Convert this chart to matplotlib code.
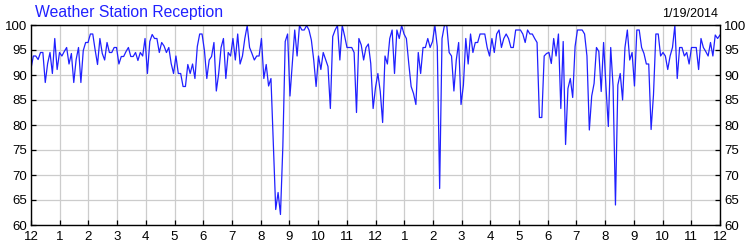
import numpy as np
import matplotlib.pyplot as plt

block_0_6 = [91.3, 93.8, 93.8, 93.1, 94.5, 94.5, 88.5, 92.3, 94.5, 90.3, 97.3, 91.1,
             94.5, 93.8, 94.7, 95.5, 92.2, 94.3, 88.5, 93.1, 95.5, 88.5, 94.9, 96.5,
             96.5, 98.2, 98.2, 95.0, 92.1, 97.3, 94.3, 93.0, 96.5, 94.5, 94.5, 95.5,
             95.5, 92.2, 93.7, 93.7, 94.7, 95.5, 93.7, 93.7, 94.5, 92.9, 94.5, 93.8,
             97.3, 90.3, 96.7, 98.1, 97.3, 97.3, 94.5, 96.5, 95.8, 94.5, 95.5, 92.3,
             90.3, 93.8, 90.3, 90.3, 87.7, 87.7, 92.1, 90.3, 92.2, 89.3, 95.7, 98.2,
             98.2, 94.9]
block_6_12 = [89.3, 93.0, 93.7, 96.5, 86.8, 90.3, 95.5, 97.3, 89.3, 94.5, 93.8, 97.3,
              93.0, 98.2, 92.2, 93.8, 97.3, 99.9, 95.5, 94.3, 93.0, 93.8, 93.8, 97.3,
              89.3, 92.1, 87.8, 89.3, 76.3, 63.1, 66.5, 62.1, 75.7, 96.7, 98.2, 85.8,
              92.3, 99.0, 93.8, 99.9, 99.0, 99.0, 99.9, 99.0, 97.0, 93.0, 87.7, 93.8,
              91.1, 94.5, 93.1, 91.7, 83.3, 97.7, 99.0, 99.9, 93.0, 99.9, 97.8, 95.5,
              95.5, 95.5, 94.5, 82.5, 97.3, 96.0, 93.0, 95.5, 96.2, 92.3, 83.3, 87.5]
block_12_18 = [90.3, 86.7, 80.5, 93.8, 92.2, 97.3, 99.0, 90.3, 99.0, 97.3, 99.9, 98.2,
               97.3, 92.3, 87.7, 86.3, 84.1, 94.5, 90.3, 95.5, 95.5, 97.3, 95.5, 96.7,
               99.9, 95.7, 67.3, 97.3, 99.9, 99.9, 94.5, 93.8, 86.8, 93.0, 96.5, 84.1,
               88.0, 97.3, 92.2, 98.2, 94.5, 96.5, 96.5, 98.2, 98.2, 98.2, 95.5, 93.8,
               97.3, 94.5, 98.2, 99.0, 95.5, 97.3, 98.2, 97.3, 95.5, 95.5, 99.0, 99.0,
               99.0, 98.2, 96.5, 99.0, 98.2, 98.2, 97.3, 96.5, 81.5, 81.5, 93.8, 94.3]
block_18_24 = [94.5, 92.3, 97.3, 93.8, 98.2, 83.3, 96.7, 76.1, 87.3, 89.3, 85.5, 95.7,
               99.0, 99.0, 99.0, 98.2, 93.8, 79.0, 85.8, 88.3, 95.5, 94.7, 86.7, 96.5,
               87.7, 79.7, 95.5, 87.7, 64.0, 88.0, 90.3, 85.0, 95.5, 99.0, 93.0, 94.5,
               87.8, 99.0, 99.0, 95.5, 94.3, 92.2, 92.2, 79.1, 86.0, 98.2, 98.2, 93.8,
               94.5, 93.8, 91.1, 93.8, 95.5, 99.9, 89.3, 95.5, 95.5, 93.8, 94.5, 92.2,
               95.5, 95.5, 95.5, 91.1, 97.3, 95.5, 94.7, 93.8, 96.5, 93.8, 98.0, 97.3,
               98.0]

hour_labels = ['12', '1', '2', '3', '4', '5', '6', '7', '8', '9', '10', '11',
               '12', '1', '2', '3', '4', '5', '6', '7', '8', '9', '10', '11', '12']
title = 'Weather Station Reception'
date_text = '1/19/2014'

plt.rcParams['font.family'] = ['Liberation Sans', 'DejaVu Sans']

reception = np.array(block_0_6 + block_6_12 + block_12_18 + block_18_24)
hours = np.linspace(0, 24, len(reception))

fig = plt.figure(figsize=(7.5, 2.5), dpi=100)
ax = fig.add_axes([31 / 750, 25 / 250, 689 / 750, 200 / 250])

ax.plot(hours, reception, color='#2020ff', linewidth=0.9)

ax.set_xlim(0, 24)
ax.set_ylim(60, 100)
ax.set_xticks(range(25))
ax.set_xticklabels(hour_labels)
ax.set_yticks(range(60, 101, 5))
ax.grid(True, color='#cccccc', linewidth=0.9)
ax.set_axisbelow(True)
ax.tick_params(direction='in', length=3.5, width=0.9, labelsize=9.5, pad=4.5,
               right=True, labelright=True, labelleft=True)
ax.tick_params(axis='y', pad=3)
for sp in ax.spines.values():
    sp.set_linewidth(1)

fig.text(35 / 750, 1 - 12 / 250, title, color='#2020ff', fontsize=11.3,
         ha='left', va='center')
fig.text(718 / 750, 1 - 14 / 250, date_text, color='black', fontsize=9,
         ha='right', va='center')

fig.savefig('out.png', dpi=100)
